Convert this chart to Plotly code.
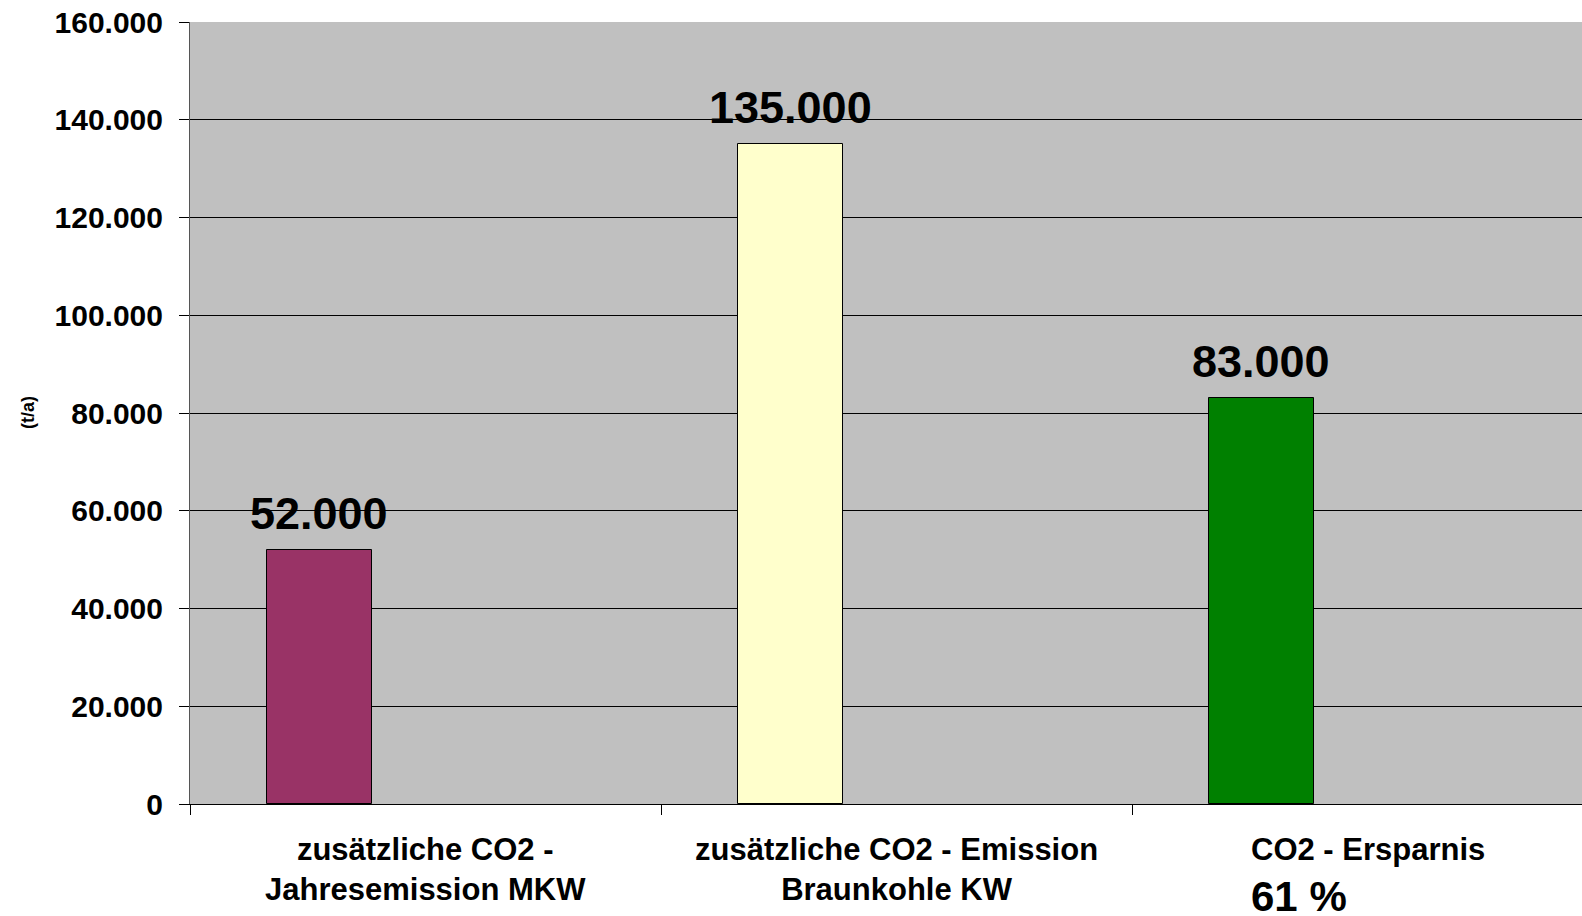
import plotly.graph_objects as go

# Chart data
categories = ["zusätzliche CO2 -<br>Jahresemission MKW",
              "zusätzliche CO2 - Emission<br>Braunkohle KW",
              "CO2 - Ersparnis"]
values = [52000, 135000, 83000]
bar_colors = ["#993366", "#FFFFCC", "#008000"]
value_labels = ["52.000", "135.000", "83.000"]
savings_label = "61 %"
y_tickvals = [0, 20000, 40000, 60000, 80000, 100000, 120000, 140000, 160000]
y_ticktext = ["0", "20.000", "40.000", "60.000", "80.000", "100.000",
              "120.000", "140.000", "160.000"]
y_unit = "(t/a)"

FONT = "Arial, 'Liberation Sans', sans-serif"
BAR_WIDTH = 0.223
BAR_OFFSET = -0.337

fig = go.Figure()
fig.add_trace(go.Bar(
    x=list(range(len(categories))),
    y=values,
    width=BAR_WIDTH,
    offset=BAR_OFFSET,
    marker=dict(color=bar_colors, line=dict(color="black", width=1)),
    hoverinfo="skip",
))

annotations = []
# value labels above each bar
for i, (v, lab) in enumerate(zip(values, value_labels)):
    annotations.append(dict(
        x=i + BAR_OFFSET + BAR_WIDTH / 2, y=v, xref="x", yref="y",
        text=f"<b>{lab}</b>", showarrow=False, yanchor="bottom",
        yshift=9, font=dict(family=FONT, size=45, color="black"),
    ))
# category labels under the axis
for i, cat in enumerate(categories):
    annotations.append(dict(
        x=i, y=0, xref="x", yref="paper",
        text=f"<b>{cat}</b>", showarrow=False, yanchor="top",
        yshift=-26, align="center",
        font=dict(family=FONT, size=31, color="black"),
    ))
# savings percentage below the last category
annotations.append(dict(
    x=1.748, y=0, xref="x", yref="paper",
    text=f"<b>{savings_label}</b>", showarrow=False,
    xanchor="left", yanchor="top", yshift=-67,
    font=dict(family=FONT, size=42, color="black"),
))
# unit label for the value axis
annotations.append(dict(
    x=-0.125, y=0.5, xref="paper", yref="paper",
    text=f"<b>{y_unit}</b>", showarrow=False, textangle=-90,
    font=dict(family=FONT, size=18, color="black"),
))

fig.update_layout(
    width=1582, height=916,
    margin=dict(l=190, r=0, t=22, b=112, pad=0),
    paper_bgcolor="white",
    plot_bgcolor="#C0C0C0",
    showlegend=False,
    annotations=annotations,
    bargap=0,
)
fig.update_xaxes(
    range=[-0.5, 2.455],
    tickvals=[-0.5, 0.5, 1.5, 2.5],
    showticklabels=False,
    ticks="outside", ticklen=10, tickcolor="black", tickwidth=1,
    showgrid=False, zeroline=False,
    showline=True, linecolor="black", linewidth=1,
)
fig.update_yaxes(
    range=[0, 160000],
    tickvals=y_tickvals, ticktext=y_ticktext,
    ticks="outside", ticklen=10, tickcolor="black", tickwidth=1,
    ticklabelstandoff=10,
    tickfont=dict(family=FONT, size=30, color="black", weight="bold"),
    showgrid=True, gridcolor="black", gridwidth=1,
    zeroline=False,
    showline=True, linecolor="#555555", linewidth=1,
)

fig.write_html("out.html")
